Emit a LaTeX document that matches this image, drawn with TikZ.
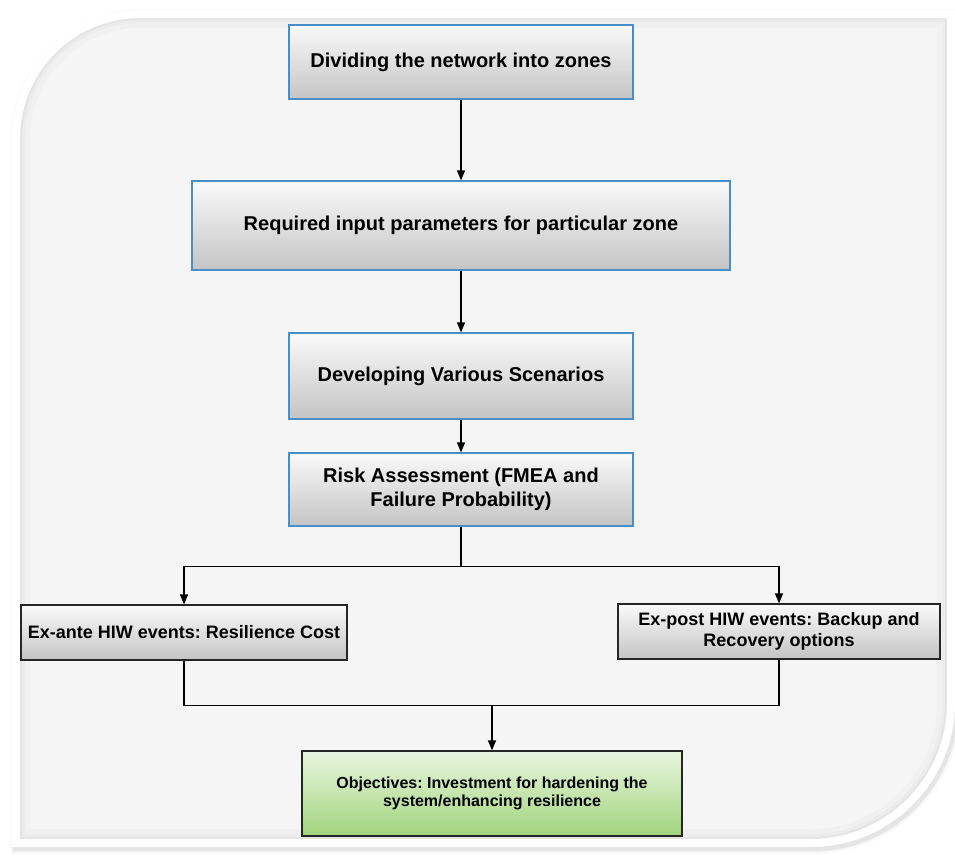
\documentclass[tikz,border=0pt]{standalone}
\usepackage{fontspec}
\setmainfont{Liberation Sans}
\usetikzlibrary{arrows.meta}
\frenchspacing
\definecolor{panelfill}{RGB}{245,245,245}
\definecolor{boxblue}{RGB}{72,142,200}
\definecolor{gradtop}{RGB}{250,250,250}
\definecolor{gradbot}{RGB}{196,196,196}
\definecolor{greentop}{RGB}{234,246,224}
\definecolor{greenbot}{RGB}{160,212,124}
\begin{document}
\begin{tikzpicture}[x=1pt,y=-1pt,
  stepbox/.style={draw=boxblue, line width=1.2pt, top color=gradtop, bottom color=gradbot,
    align=center, inner sep=0pt, font=\bfseries\fontsize{20}{24}\selectfont},
  eventbox/.style={draw=black!85, line width=1.2pt, top color=gradtop, bottom color=gradbot,
    align=center, inner sep=0pt, font=\bfseries\fontsize{18}{21}\selectfont},
  goalbox/.style={draw=black!85, line width=1.2pt, top color=greentop, bottom color=greenbot,
    align=center, inner sep=0pt, font=\bfseries\fontsize{16}{18}\selectfont},
  link/.style={line width=1.2pt, black},
  arr/.style={link, -{Triangle[length=10pt,width=8pt]}}]
\useasboundingbox (0,0) rectangle (955,854);
\fill[white] (0,0) rectangle (955,854);

% rounded background panel: soft shadow, white rim, light fill
\def\panelpath{(16,843) -- (16,139) .. controls (16,70) and (71,14) .. (141,14) -- (951,14)
  -- (951,703) .. controls (951,780) and (888,843) .. (811,843) -- cycle}
\foreach \w/\o in {16/0.04,12/0.07,10/0.10}
  \draw[gray, line width=\w pt, opacity=\o, shift={(2,3)}] \panelpath;
\fill[panelfill] \panelpath;
\begin{scope}
  \clip \panelpath;
  \foreach \w/\o in {28/0.015,18/0.02,12/0.03}
    \draw[black, line width=\w pt, opacity=\o] \panelpath;
\end{scope}
\draw[white, line width=8pt] \panelpath;

% process steps
\node[stepbox, minimum width=344, minimum height=74] (b1) at (461,62) {Dividing the network into zones};
\node[stepbox, minimum width=538, minimum height=89] (b2) at (461,225.5) {Required input parameters for particular zone};
\node[stepbox, minimum width=344, minimum height=86] (b3) at (461,376) {Developing Various Scenarios};
\node[stepbox, minimum width=344, minimum height=73] (b4) at (461,489.5) {Risk Assessment (FMEA and\\Failure Probability)};
\node[eventbox, minimum width=326, minimum height=55] (b5) at (184,632.5) {Ex-ante HIW events: Resilience Cost};
\node[eventbox, minimum width=322, minimum height=55] (b6) at (779,631.5) {Ex-post HIW events: Backup and\\Recovery options};
\node[goalbox, minimum width=380, minimum height=85] (b7) at (492,793.5) {Objectives: Investment for hardening the\\system/enhancing resilience};

% connectors
\draw[arr] (b1) -- (b2);
\draw[arr] (b2) -- (b3);
\draw[arr] (b3) -- (b4);
\draw[link] (b4.south) -- ++(0,40) coordinate (split);
\draw[arr] (split) -| (b5.north);
\draw[arr] (split) -| (b6.north);
\draw[link] (b5.south) -- ++(0,45) coordinate (merge) -| (b6.south);
\coordinate (drop) at (b7.north |- merge);
\draw[arr] (drop) -- (b7.north);
\end{tikzpicture}
\end{document}
